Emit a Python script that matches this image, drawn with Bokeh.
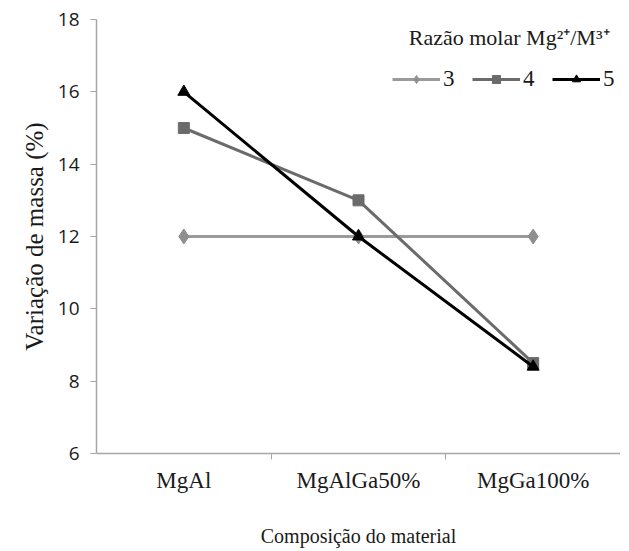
from bokeh.plotting import figure
from bokeh.models import Range1d, FixedTicker, Legend, LegendItem, Label
from bokeh.embed import file_html
from bokeh.resources import INLINE

categories = ["MgAl", "MgAlGa50%", "MgGa100%"]
series_names = ["3", "4", "5"]
values_3 = [12, 12, 12]
values_4 = [15, 13, 8.5]
values_5 = [16, 12, 8.4]
y_ticks = [6, 8, 10, 12, 14, 16, 18]
legend_title = "Razão molar Mg²⁺/M³⁺"

xs = [i + 0.5 for i in range(len(categories))]

p = figure(width=620, height=549, output_backend="svg", toolbar_location=None,
           x_range=Range1d(0, len(categories)), y_range=Range1d(6, 18),
           min_border_left=96, min_border_right=0, min_border_top=19, min_border_bottom=60)
p.outline_line_color = None
p.xgrid.visible = False
p.ygrid.visible = False
p.background_fill_color = "white"
p.border_fill_color = "white"

axis_color = "#a6a6a6"
serif = "'Liberation Serif', 'Times New Roman', serif"
txt = "#1a1a1a"

p.xaxis.ticker = FixedTicker(ticks=xs, minor_ticks=[1, 2])
p.xaxis.major_label_overrides = {x: c for x, c in zip(xs, categories)}
p.xaxis.major_tick_line_color = None
p.xaxis.major_tick_out = 0
p.xaxis.major_tick_in = 0
p.xaxis.minor_tick_line_color = axis_color
p.xaxis.minor_tick_out = 6
p.xaxis.minor_tick_in = 0
p.xaxis.axis_line_color = axis_color
p.xaxis.axis_line_width = 1.5
p.xaxis.major_label_text_font = serif
p.xaxis.major_label_text_font_size = "23px"
p.xaxis.major_label_text_color = txt
p.xaxis.major_label_standoff = 8
p.xaxis.axis_label = "Composição do material"
p.xaxis.axis_label_text_font = serif
p.xaxis.axis_label_text_font_size = "20px"
p.xaxis.axis_label_text_font_style = "normal"
p.xaxis.axis_label_text_color = txt
p.xaxis.axis_label_standoff = 29

p.yaxis.ticker = FixedTicker(ticks=y_ticks)
p.yaxis.minor_tick_line_color = None
p.yaxis.major_tick_line_color = axis_color
p.yaxis.major_tick_out = 6
p.yaxis.major_tick_in = 0
p.yaxis.axis_line_color = axis_color
p.yaxis.axis_line_width = 1.5
p.yaxis.major_label_text_font = "Open Sans"
p.yaxis.major_label_text_font_size = "19px"
p.yaxis.major_label_text_color = txt
p.yaxis.major_label_standoff = 11
p.yaxis.axis_label = "Variação de massa (%)"
p.yaxis.axis_label_text_font = serif
p.yaxis.axis_label_text_font_size = "25px"
p.yaxis.axis_label_text_font_style = "normal"
p.yaxis.axis_label_text_color = txt
p.yaxis.axis_label_standoff = 7

c3, c4, c5 = "#8f8f8f", "#6b6b6b", "#000000"
l3 = p.line(xs, values_3, line_color="#9a9a9a", line_width=3)
m3 = p.scatter(xs, values_3, marker="diamond", size=15, fill_color=c3, line_color=c3)
l4 = p.line(xs, values_4, line_color=c4, line_width=3)
m4 = p.scatter(xs, values_4, marker="square", size=11, fill_color=c4, line_color=c4)
l5 = p.line(xs, values_5, line_color=c5, line_width=3)
m5 = p.scatter(xs, values_5, marker="triangle", size=12, fill_color=c5, line_color=c5)

legend = Legend(items=[LegendItem(label=series_names[0], renderers=[l3, m3]),
                       LegendItem(label=series_names[1], renderers=[l4, m4]),
                       LegendItem(label=series_names[2], renderers=[l5, m5])],
                location=(296, 361), orientation="horizontal")
legend.label_text_font = serif
legend.label_text_font_size = "23px"
legend.label_text_color = txt
legend.label_standoff = 3
legend.glyph_width = 48
legend.spacing = 9
legend.border_line_color = None
legend.background_fill_alpha = 0
legend.margin = 0
legend.padding = 0
p.add_layout(legend)

title_label = Label(x=len(categories), y=18, x_units="data", y_units="data",
                    x_offset=-11, y_offset=-18, text=legend_title,
                    text_align="right", text_baseline="alphabetic",
                    text_font=serif, text_font_size="22px", text_color=txt)
p.add_layout(title_label)

open("out.html", "w").write(file_html(p, INLINE))
